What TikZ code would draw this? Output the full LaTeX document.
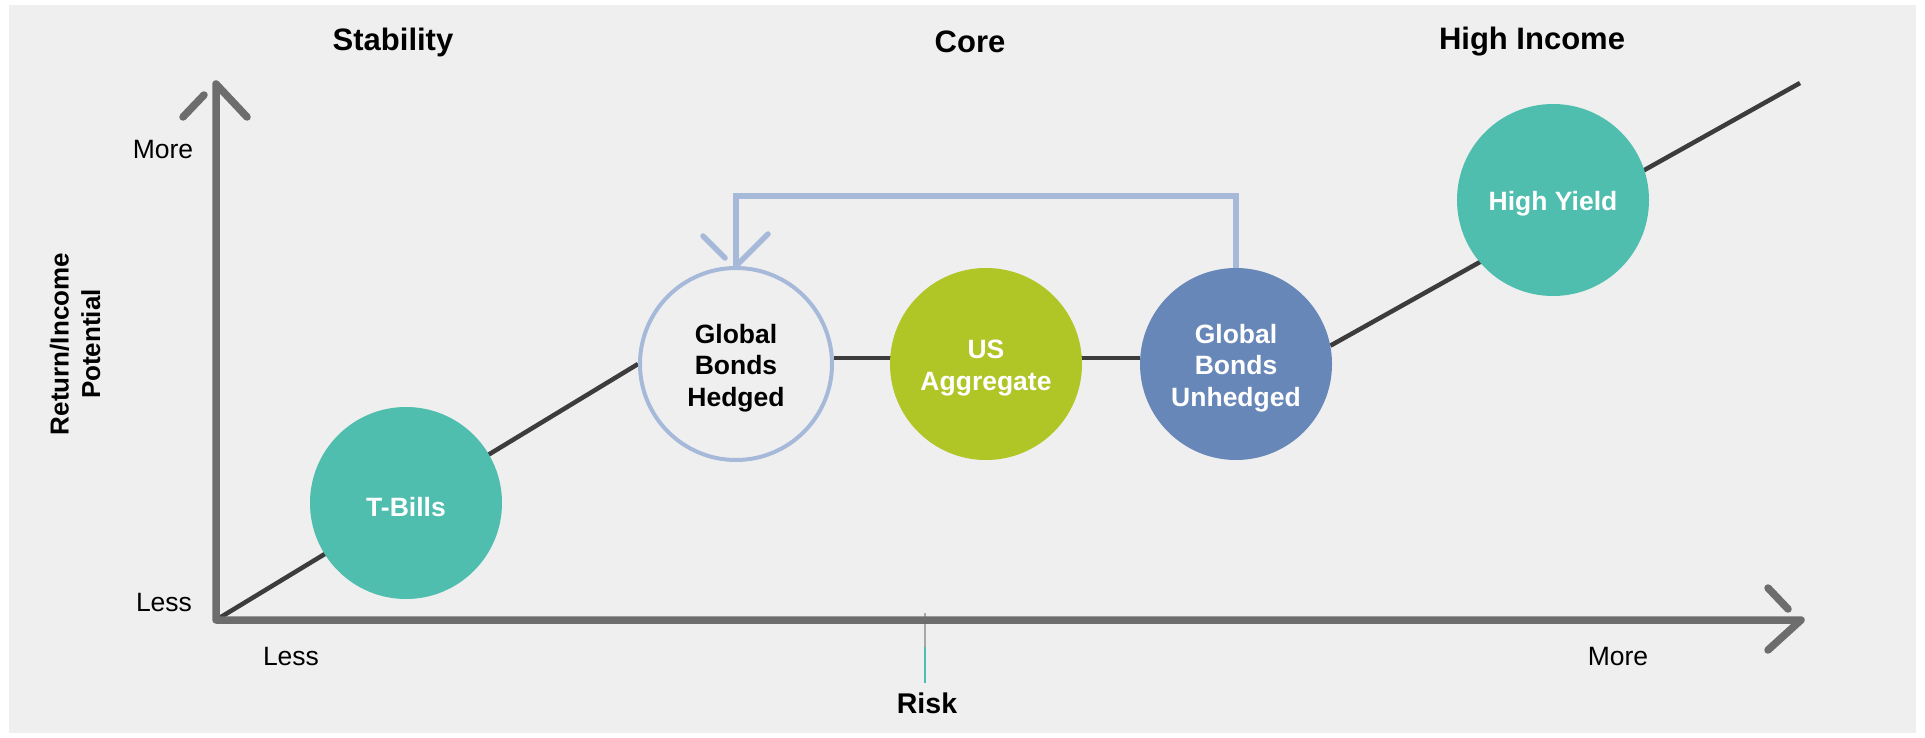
\documentclass[tikz,border=0pt]{standalone}
\usepackage{fontspec}
\setmainfont{Liberation Sans}
\definecolor{panel}{HTML}{EFEFEF}
\definecolor{axisgray}{HTML}{6D6D6D}
\definecolor{linkdark}{HTML}{3C3C3C}
\definecolor{tealc}{HTML}{4FBEAE}
\definecolor{limec}{HTML}{B0C526}
\definecolor{bluec}{HTML}{6887B9}
\definecolor{paleblue}{HTML}{A7B9D9}
\pgfdeclarelayer{back}
\pgfdeclarelayer{mid}
\pgfsetlayers{back,mid,main}
\begin{document}
\begin{tikzpicture}[x=1pt,y=-1pt,
  bubble/.style={circle,inner sep=0pt,minimum size=192pt},
  bubtext/.style={align=center,yshift=-4pt,
    font=\fontsize{26.5}{31.7}\selectfont\bfseries},
  header/.style={font=\fontsize{31}{36}\selectfont\bfseries},
  ticklabel/.style={font=\fontsize{26.5}{31}\selectfont},
  axisline/.style={draw=axisgray,line width=7.5pt,line cap=round,line join=round},
  linkline/.style={draw=linkdark,line width=4.5pt},
  swapline/.style={draw=paleblue,line width=6pt},
  swaparm/.style={draw=paleblue,line width=5.5pt,line cap=round}]

% canvas and panel
\useasboundingbox (0,0) rectangle (1925,738);
\begin{pgfonlayer}{back}
  \fill[white] (0,0) rectangle (1925,738);
  \fill[panel] (9,5) rectangle (1916,733);
\end{pgfonlayer}

% axis key points
\coordinate (O) at (216,620);
\coordinate (V) at (216,84);
\coordinate (H) at (1801,620);
\coordinate (E) at (1800,83);
\coordinate (M1) at (925,613);
\coordinate (M2) at (925,647);
\coordinate (M3) at (925,683);

% bond categories
\node[bubble,fill=tealc,label={[bubtext,text=white,name=TBt]center:T-Bills}] (TB) at (406,503) {};
\node[bubble,draw=paleblue,line width=4pt,fill=panel,
  label={[bubtext,text=black,name=GBHt]center:Global\\Bonds\\Hedged}] (GBH) at (736,364) {};
\node[bubble,fill=limec,label={[bubtext,text=white,name=USAt]center:US\\Aggregate}] (USA) at (986,364) {};
\node[bubble,fill=bluec,label={[bubtext,text=white,name=GBUt]center:Global\\Bonds\\Unhedged}] (GBU) at (1236,364) {};
\node[bubble,fill=tealc,label={[bubtext,text=white,name=HYt]center:High Yield}] (HY) at (1553,200) {};

% risk/return path running behind the bubbles
\begin{pgfonlayer}{mid}
  \path[linkline] (O) -- (GBH.west);
  \path[linkline] ([yshift=6pt]GBH.east) -- ([yshift=6pt]GBU.west);
  \path[linkline] (GBU.11) -- (E);
\end{pgfonlayer}

% hedging switch from unhedged back to hedged
\path[swapline] (GBU.north) -- (GBU.north |- 0,196) -- (GBH.north |- 0,196) -- (GBH.north);
\path[swaparm] (GBH.north) -- ++(32,-32);
\path[swaparm] (GBH.north) ++(-33,-30) -- ++(22,22);

% centre marker on the risk axis
\draw[axisgray!60,line width=1.2pt] (M1) -- (M2);
\draw[tealc,line width=1.2pt] (M2) -- (M3);

% axes with open chevron heads
\path[axisline] (V) ++(31,33) -- (V) -- (O) -- (H) -- ++(-33,30);
\path[axisline] (V) ++(-33,33) -- ++(21,-22);
\path[axisline] (H) ++(-33,-32) -- ++(20,21);

% titles and axis labels
\node[header] (tStab) at (393,42) {Stability};
\node[header] (tCore) at (970,42) {Core};
\node[header] (tHigh) at (1532,42) {High Income};
\node[ticklabel] (yMore) at (163,150) {More};
\node[ticklabel] (yLess) at (164,603) {Less};
\node[ticklabel] (xLess) at (291,657) {Less};
\node[ticklabel] (xMore) at (1618,657) {More};
\node[font=\fontsize{28.5}{33}\selectfont\bfseries] (xRisk) at (927,703) {Risk};
\node[rotate=90,align=center,font=\fontsize{26}{31.5}\selectfont\bfseries] (yRet) at (75,344) {Return/Income\\Potential};
\end{tikzpicture}
\end{document}
